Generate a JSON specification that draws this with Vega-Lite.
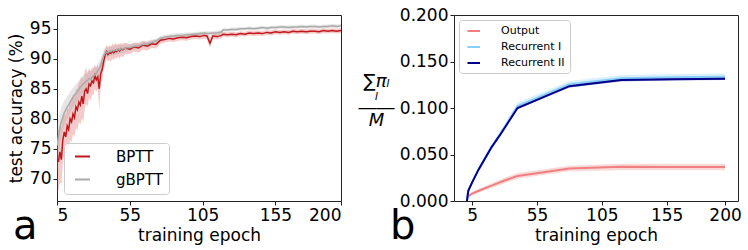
{
"$schema":"https://vega.github.io/schema/vega-lite/v6.json",
"padding":{"left":6,"top":5,"right":5,"bottom":0},
"spacing":113,
"bounds":"flush",
"resolve":{"scale":{"stroke":"independent","fill":"independent"}},
"config":{"font":"DejaVu Sans","view":{"stroke":"#222","strokeWidth":1},
"axis":{"grid":false,"domain":false,"tickColor":"#222","tickSize":4,"labelFontSize":17,"labelColor":"#000","titleFontSize":17,"titleFontWeight":"normal","titleColor":"#000","labelPadding":2,"labelOverlap":false}},
"datasets":{
"a":[
{"e":5,"s":"BPTT","m":73.5,"lo":67.0,"hi":78.5},{"e":6,"s":"BPTT","m":72.8,"lo":68.0,"hi":78.0},{"e":7,"s":"BPTT","m":74.5,"lo":69.5,"hi":79.0},{"e":8,"s":"BPTT","m":73.2,"lo":69.0,"hi":78.5},{"e":9,"s":"BPTT","m":76.5,"lo":72.5,"hi":80.0},{"e":10,"s":"BPTT","m":77.8,"lo":74.0,"hi":81.0},{"e":11,"s":"BPTT","m":77.0,"lo":73.5,"hi":80.5},{"e":12,"s":"BPTT","m":78.8,"lo":75.0,"hi":82.0},{"e":13,"s":"BPTT","m":78.2,"lo":75.0,"hi":81.5},{"e":14,"s":"BPTT","m":80.0,"lo":76.5,"hi":83.0},{"e":15,"s":"BPTT","m":79.5,"lo":76.0,"hi":83.5},{"e":16,"s":"BPTT","m":80.8,"lo":77.5,"hi":84.0},{"e":17,"s":"BPTT","m":80.2,"lo":77.0,"hi":83.5},{"e":18,"s":"BPTT","m":82.0,"lo":78.5,"hi":85.0},{"e":19,"s":"BPTT","m":81.5,"lo":78.0,"hi":85.0},{"e":20,"s":"BPTT","m":82.8,"lo":79.5,"hi":86.0},{"e":21,"s":"BPTT","m":82.3,"lo":79.0,"hi":86.5},{"e":22,"s":"BPTT","m":83.8,"lo":80.0,"hi":87.0},{"e":23,"s":"BPTT","m":82.5,"lo":79.5,"hi":86.5},{"e":24,"s":"BPTT","m":84.6,"lo":81.5,"hi":88.0},{"e":25,"s":"BPTT","m":85.0,"lo":82.5,"hi":88.5},{"e":26,"s":"BPTT","m":84.2,"lo":82.0,"hi":87.5},{"e":27,"s":"BPTT","m":85.8,"lo":83.5,"hi":88.5},{"e":28,"s":"BPTT","m":85.5,"lo":83.0,"hi":88.0},{"e":29,"s":"BPTT","m":86.3,"lo":84.0,"hi":88.5},{"e":30,"s":"BPTT","m":86.0,"lo":84.0,"hi":88.5},{"e":31,"s":"BPTT","m":87.2,"lo":85.0,"hi":89.0},{"e":32,"s":"BPTT","m":86.5,"lo":84.5,"hi":88.5},{"e":33,"s":"BPTT","m":87.0,"lo":85.0,"hi":89.0},{"e":34,"s":"BPTT","m":85.0,"lo":81.5,"hi":88.0},{"e":35,"s":"BPTT","m":87.5,"lo":85.5,"hi":89.0},{"e":36,"s":"BPTT","m":88.2,"lo":86.5,"hi":89.5},{"e":37,"s":"BPTT","m":89.5,"lo":88.0,"hi":90.8},{"e":38,"s":"BPTT","m":90.6,"lo":89.0,"hi":91.8},{"e":39,"s":"BPTT","m":91.2,"lo":90.0,"hi":92.3},{"e":40,"s":"BPTT","m":90.7,"lo":89.5,"hi":92.0},{"e":41,"s":"BPTT","m":91.0,"lo":89.8,"hi":92.2},{"e":42,"s":"BPTT","m":90.9,"lo":89.5,"hi":92.0},{"e":43,"s":"BPTT","m":91.3,"lo":90.0,"hi":92.5},{"e":44,"s":"BPTT","m":91.0,"lo":89.8,"hi":92.3},{"e":45,"s":"BPTT","m":91.4,"lo":90.2,"hi":92.6},{"e":46,"s":"BPTT","m":91.2,"lo":90.0,"hi":92.4},{"e":47,"s":"BPTT","m":91.6,"lo":90.4,"hi":92.5},{"e":48,"s":"BPTT","m":91.3,"lo":90.0,"hi":92.5},{"e":49,"s":"BPTT","m":91.7,"lo":90.5,"hi":92.6},{"e":50,"s":"BPTT","m":91.5,"lo":90.2,"hi":92.5},{"e":52,"s":"BPTT","m":91.8,"lo":90.8,"hi":92.7},{"e":55,"s":"BPTT","m":91.6,"lo":90.8,"hi":92.4},{"e":58,"s":"BPTT","m":92.0,"lo":91.2,"hi":92.7},{"e":61,"s":"BPTT","m":91.8,"lo":91.0,"hi":92.6},{"e":64,"s":"BPTT","m":92.3,"lo":91.5,"hi":93.0},{"e":67,"s":"BPTT","m":92.1,"lo":91.4,"hi":92.8},{"e":70,"s":"BPTT","m":92.5,"lo":91.8,"hi":93.1},{"e":73,"s":"BPTT","m":92.4,"lo":91.7,"hi":93.0},{"e":76,"s":"BPTT","m":93.1,"lo":92.5,"hi":93.6},{"e":79,"s":"BPTT","m":93.2,"lo":92.7,"hi":93.7},{"e":82,"s":"BPTT","m":93.4,"lo":92.9,"hi":93.9},{"e":85,"s":"BPTT","m":93.3,"lo":92.8,"hi":93.8},{"e":88,"s":"BPTT","m":93.5,"lo":93.0,"hi":94.0},{"e":91,"s":"BPTT","m":93.6,"lo":93.1,"hi":94.0},{"e":94,"s":"BPTT","m":93.5,"lo":93.0,"hi":94.0},{"e":97,"s":"BPTT","m":93.7,"lo":93.2,"hi":94.1},{"e":100,"s":"BPTT","m":93.8,"lo":93.3,"hi":94.2},{"e":103,"s":"BPTT","m":93.7,"lo":93.2,"hi":94.2},{"e":106,"s":"BPTT","m":93.9,"lo":93.4,"hi":94.3},{"e":108,"s":"BPTT","m":93.8,"lo":93.3,"hi":94.3},{"e":110,"s":"BPTT","m":92.6,"lo":91.8,"hi":93.6},{"e":112,"s":"BPTT","m":93.8,"lo":93.3,"hi":94.3},{"e":115,"s":"BPTT","m":93.7,"lo":93.2,"hi":94.2},{"e":118,"s":"BPTT","m":93.9,"lo":93.4,"hi":94.4},{"e":119,"s":"BPTT","m":94.1,"lo":93.7,"hi":94.5},{"e":122,"s":"BPTT","m":94.0,"lo":93.6,"hi":94.4},{"e":125,"s":"BPTT","m":94.1,"lo":93.7,"hi":94.5},{"e":128,"s":"BPTT","m":94.0,"lo":93.6,"hi":94.4},{"e":131,"s":"BPTT","m":94.2,"lo":93.8,"hi":94.6},{"e":134,"s":"BPTT","m":94.1,"lo":93.7,"hi":94.5},{"e":137,"s":"BPTT","m":94.3,"lo":93.9,"hi":94.7},{"e":140,"s":"BPTT","m":94.2,"lo":93.8,"hi":94.6},{"e":143,"s":"BPTT","m":94.3,"lo":93.9,"hi":94.7},{"e":146,"s":"BPTT","m":94.2,"lo":93.8,"hi":94.6},{"e":149,"s":"BPTT","m":94.4,"lo":94.0,"hi":94.8},{"e":152,"s":"BPTT","m":94.3,"lo":93.9,"hi":94.7},{"e":155,"s":"BPTT","m":94.5,"lo":94.1,"hi":94.9},{"e":158,"s":"BPTT","m":94.4,"lo":94.0,"hi":94.8},{"e":161,"s":"BPTT","m":94.5,"lo":94.1,"hi":94.9},{"e":164,"s":"BPTT","m":94.4,"lo":94.0,"hi":94.8},{"e":167,"s":"BPTT","m":94.6,"lo":94.2,"hi":95.0},{"e":170,"s":"BPTT","m":94.5,"lo":94.1,"hi":94.9},{"e":173,"s":"BPTT","m":94.6,"lo":94.2,"hi":95.0},{"e":176,"s":"BPTT","m":94.5,"lo":94.1,"hi":94.9},{"e":179,"s":"BPTT","m":94.6,"lo":94.2,"hi":95.0},{"e":182,"s":"BPTT","m":94.6,"lo":94.2,"hi":95.0},{"e":185,"s":"BPTT","m":94.5,"lo":94.1,"hi":94.9},{"e":188,"s":"BPTT","m":94.7,"lo":94.3,"hi":95.1},{"e":191,"s":"BPTT","m":94.6,"lo":94.2,"hi":95.0},{"e":194,"s":"BPTT","m":94.7,"lo":94.3,"hi":95.1},{"e":197,"s":"BPTT","m":94.6,"lo":94.2,"hi":95.0},{"e":200,"s":"BPTT","m":94.7,"lo":94.3,"hi":95.1},
{"e":5,"s":"gBPTT","m":75.5,"lo":71.0,"hi":79.0},{"e":6,"s":"gBPTT","m":77.0,"lo":73.5,"hi":80.0},{"e":7,"s":"gBPTT","m":78.5,"lo":75.5,"hi":81.0},{"e":8,"s":"gBPTT","m":79.5,"lo":77.0,"hi":82.0},{"e":9,"s":"gBPTT","m":80.3,"lo":78.0,"hi":82.5},{"e":10,"s":"gBPTT","m":81.0,"lo":79.0,"hi":83.0},{"e":11,"s":"gBPTT","m":81.5,"lo":79.5,"hi":83.3},{"e":12,"s":"gBPTT","m":82.0,"lo":80.0,"hi":83.8},{"e":13,"s":"gBPTT","m":82.3,"lo":80.5,"hi":84.0},{"e":14,"s":"gBPTT","m":82.8,"lo":81.0,"hi":84.5},{"e":15,"s":"gBPTT","m":83.2,"lo":81.5,"hi":84.8},{"e":16,"s":"gBPTT","m":83.5,"lo":81.8,"hi":85.2},{"e":17,"s":"gBPTT","m":84.0,"lo":82.3,"hi":85.5},{"e":18,"s":"gBPTT","m":84.2,"lo":82.5,"hi":85.8},{"e":19,"s":"gBPTT","m":84.6,"lo":83.0,"hi":86.0},{"e":20,"s":"gBPTT","m":84.8,"lo":83.2,"hi":86.3},{"e":21,"s":"gBPTT","m":85.3,"lo":83.8,"hi":86.7},{"e":22,"s":"gBPTT","m":85.5,"lo":84.0,"hi":87.0},{"e":23,"s":"gBPTT","m":85.8,"lo":84.3,"hi":87.2},{"e":24,"s":"gBPTT","m":86.0,"lo":84.6,"hi":87.4},{"e":25,"s":"gBPTT","m":86.3,"lo":85.0,"hi":87.6},{"e":26,"s":"gBPTT","m":86.4,"lo":85.0,"hi":87.8},{"e":27,"s":"gBPTT","m":86.7,"lo":85.3,"hi":88.0},{"e":28,"s":"gBPTT","m":86.6,"lo":85.3,"hi":87.9},{"e":29,"s":"gBPTT","m":86.9,"lo":85.6,"hi":88.1},{"e":30,"s":"gBPTT","m":87.1,"lo":85.8,"hi":88.3},{"e":31,"s":"gBPTT","m":87.3,"lo":86.0,"hi":88.5},{"e":32,"s":"gBPTT","m":87.6,"lo":86.3,"hi":88.8},{"e":33,"s":"gBPTT","m":88.0,"lo":86.8,"hi":89.2},{"e":34,"s":"gBPTT","m":88.3,"lo":87.0,"hi":89.5},{"e":35,"s":"gBPTT","m":89.0,"lo":87.8,"hi":90.1},{"e":36,"s":"gBPTT","m":89.8,"lo":88.6,"hi":90.8},{"e":37,"s":"gBPTT","m":90.5,"lo":89.5,"hi":91.4},{"e":38,"s":"gBPTT","m":90.9,"lo":90.0,"hi":91.7},{"e":39,"s":"gBPTT","m":91.1,"lo":90.3,"hi":91.9},{"e":40,"s":"gBPTT","m":91.0,"lo":90.2,"hi":91.8},{"e":41,"s":"gBPTT","m":91.3,"lo":90.5,"hi":92.0},{"e":42,"s":"gBPTT","m":91.2,"lo":90.4,"hi":92.0},{"e":43,"s":"gBPTT","m":91.4,"lo":90.6,"hi":92.1},{"e":44,"s":"gBPTT","m":91.3,"lo":90.5,"hi":92.1},{"e":45,"s":"gBPTT","m":91.5,"lo":90.8,"hi":92.2},{"e":46,"s":"gBPTT","m":91.4,"lo":90.7,"hi":92.1},{"e":47,"s":"gBPTT","m":91.6,"lo":90.9,"hi":92.3},{"e":48,"s":"gBPTT","m":91.5,"lo":90.8,"hi":92.2},{"e":49,"s":"gBPTT","m":91.7,"lo":91.0,"hi":92.4},{"e":50,"s":"gBPTT","m":91.6,"lo":90.9,"hi":92.3},{"e":52,"s":"gBPTT","m":91.8,"lo":91.2,"hi":92.4},{"e":55,"s":"gBPTT","m":91.9,"lo":91.3,"hi":92.5},{"e":58,"s":"gBPTT","m":92.1,"lo":91.5,"hi":92.6},{"e":61,"s":"gBPTT","m":92.2,"lo":91.7,"hi":92.7},{"e":64,"s":"gBPTT","m":92.4,"lo":91.9,"hi":92.9},{"e":67,"s":"gBPTT","m":92.5,"lo":92.0,"hi":93.0},{"e":70,"s":"gBPTT","m":92.7,"lo":92.2,"hi":93.2},{"e":73,"s":"gBPTT","m":93.0,"lo":92.5,"hi":93.4},{"e":76,"s":"gBPTT","m":93.4,"lo":93.0,"hi":93.8},{"e":79,"s":"gBPTT","m":93.6,"lo":93.2,"hi":94.0},{"e":82,"s":"gBPTT","m":93.7,"lo":93.3,"hi":94.1},{"e":85,"s":"gBPTT","m":93.8,"lo":93.4,"hi":94.2},{"e":88,"s":"gBPTT","m":93.9,"lo":93.5,"hi":94.3},{"e":91,"s":"gBPTT","m":93.9,"lo":93.5,"hi":94.3},{"e":94,"s":"gBPTT","m":94.0,"lo":93.6,"hi":94.4},{"e":97,"s":"gBPTT","m":94.1,"lo":93.7,"hi":94.4},{"e":100,"s":"gBPTT","m":94.1,"lo":93.8,"hi":94.5},{"e":103,"s":"gBPTT","m":94.2,"lo":93.8,"hi":94.5},{"e":106,"s":"gBPTT","m":94.3,"lo":93.9,"hi":94.6},{"e":109,"s":"gBPTT","m":94.2,"lo":93.9,"hi":94.6},{"e":112,"s":"gBPTT","m":94.3,"lo":94.0,"hi":94.6},{"e":115,"s":"gBPTT","m":94.3,"lo":94.0,"hi":94.7},{"e":118,"s":"gBPTT","m":94.5,"lo":94.1,"hi":94.8},{"e":119,"s":"gBPTT","m":94.8,"lo":94.5,"hi":95.1},{"e":122,"s":"gBPTT","m":94.8,"lo":94.5,"hi":95.1},{"e":125,"s":"gBPTT","m":94.9,"lo":94.6,"hi":95.2},{"e":128,"s":"gBPTT","m":94.9,"lo":94.6,"hi":95.2},{"e":131,"s":"gBPTT","m":95.0,"lo":94.7,"hi":95.3},{"e":134,"s":"gBPTT","m":95.0,"lo":94.7,"hi":95.3},{"e":137,"s":"gBPTT","m":95.1,"lo":94.8,"hi":95.4},{"e":140,"s":"gBPTT","m":95.0,"lo":94.7,"hi":95.3},{"e":143,"s":"gBPTT","m":95.1,"lo":94.8,"hi":95.4},{"e":146,"s":"gBPTT","m":95.2,"lo":94.9,"hi":95.5},{"e":149,"s":"gBPTT","m":95.1,"lo":94.8,"hi":95.4},{"e":152,"s":"gBPTT","m":95.2,"lo":94.9,"hi":95.5},{"e":155,"s":"gBPTT","m":95.2,"lo":94.9,"hi":95.5},{"e":158,"s":"gBPTT","m":95.3,"lo":95.0,"hi":95.6},{"e":161,"s":"gBPTT","m":95.3,"lo":95.0,"hi":95.6},{"e":164,"s":"gBPTT","m":95.2,"lo":94.9,"hi":95.5},{"e":167,"s":"gBPTT","m":95.3,"lo":95.0,"hi":95.6},{"e":170,"s":"gBPTT","m":95.3,"lo":95.0,"hi":95.6},{"e":173,"s":"gBPTT","m":95.4,"lo":95.1,"hi":95.7},{"e":176,"s":"gBPTT","m":95.3,"lo":95.0,"hi":95.6},{"e":179,"s":"gBPTT","m":95.4,"lo":95.1,"hi":95.7},{"e":182,"s":"gBPTT","m":95.4,"lo":95.1,"hi":95.7},{"e":185,"s":"gBPTT","m":95.3,"lo":95.0,"hi":95.6},{"e":188,"s":"gBPTT","m":95.4,"lo":95.1,"hi":95.7},{"e":191,"s":"gBPTT","m":95.4,"lo":95.1,"hi":95.7},{"e":194,"s":"gBPTT","m":95.5,"lo":95.2,"hi":95.8},{"e":197,"s":"gBPTT","m":95.4,"lo":95.1,"hi":95.7},{"e":200,"s":"gBPTT","m":95.5,"lo":95.2,"hi":95.8}
],
"b":[
{"e":1,"s":"Output","m":0.004,"lo":0.003,"hi":0.006},{"e":5,"s":"Output","m":0.008,"lo":0.006,"hi":0.010},{"e":10,"s":"Output","m":0.011,"lo":0.009,"hi":0.013},{"e":20,"s":"Output","m":0.0165,"lo":0.014,"hi":0.019},{"e":30,"s":"Output","m":0.022,"lo":0.019,"hi":0.025},{"e":40,"s":"Output","m":0.027,"lo":0.024,"hi":0.030},{"e":80,"s":"Output","m":0.035,"lo":0.032,"hi":0.038},{"e":120,"s":"Output","m":0.0368,"lo":0.033,"hi":0.040},{"e":160,"s":"Output","m":0.0366,"lo":0.033,"hi":0.040},{"e":200,"s":"Output","m":0.0365,"lo":0.033,"hi":0.040},
{"e":1,"s":"Recurrent I","m":0.0,"lo":0.0,"hi":0.001},{"e":2,"s":"Recurrent I","m":0.011,"lo":0.010,"hi":0.013},{"e":5,"s":"Recurrent I","m":0.020,"lo":0.018,"hi":0.022},{"e":10,"s":"Recurrent I","m":0.034,"lo":0.032,"hi":0.037},{"e":15,"s":"Recurrent I","m":0.046,"lo":0.043,"hi":0.049},{"e":20,"s":"Recurrent I","m":0.058,"lo":0.055,"hi":0.061},{"e":27,"s":"Recurrent I","m":0.073,"lo":0.070,"hi":0.076},{"e":33,"s":"Recurrent I","m":0.086,"lo":0.083,"hi":0.090},{"e":40,"s":"Recurrent I","m":0.102,"lo":0.099,"hi":0.106},{"e":80,"s":"Recurrent I","m":0.1255,"lo":0.122,"hi":0.129},{"e":120,"s":"Recurrent I","m":0.132,"lo":0.129,"hi":0.1355},{"e":160,"s":"Recurrent I","m":0.133,"lo":0.130,"hi":0.1365},{"e":200,"s":"Recurrent I","m":0.1335,"lo":0.130,"hi":0.137},
{"e":1,"s":"Recurrent II","m":0.0,"lo":0.0,"hi":0.001},{"e":2,"s":"Recurrent II","m":0.011,"lo":0.010,"hi":0.012},{"e":5,"s":"Recurrent II","m":0.020,"lo":0.019,"hi":0.021},{"e":10,"s":"Recurrent II","m":0.034,"lo":0.033,"hi":0.035},{"e":15,"s":"Recurrent II","m":0.046,"lo":0.045,"hi":0.047},{"e":20,"s":"Recurrent II","m":0.058,"lo":0.057,"hi":0.059},{"e":27,"s":"Recurrent II","m":0.072,"lo":0.071,"hi":0.073},{"e":33,"s":"Recurrent II","m":0.085,"lo":0.084,"hi":0.086},{"e":40,"s":"Recurrent II","m":0.100,"lo":0.099,"hi":0.101},{"e":80,"s":"Recurrent II","m":0.1235,"lo":0.122,"hi":0.125},{"e":120,"s":"Recurrent II","m":0.130,"lo":0.1285,"hi":0.1315},{"e":160,"s":"Recurrent II","m":0.131,"lo":0.1295,"hi":0.1325},{"e":200,"s":"Recurrent II","m":0.1315,"lo":0.130,"hi":0.133}
]},
"hconcat":[
{"width":284,"height":186,"data":{"name":"a"},
"title":{"text":"a","orient":"bottom","anchor":"start","frame":"group","fontSize":40,"fontWeight":"normal","color":"#000","dx":-44,"offset":-36},
"layer":[
{"mark":{"type":"area","opacity":0.25,"clip":true},
"encoding":{"x":{"field":"e","type":"quantitative","scale":{"domain":[5,200],"nice":false},"axis":{"values":[5,55,105,155,200],"title":"training epoch"}},
"y":{"field":"lo","type":"quantitative","scale":{"domain":[66.3,97.3],"nice":false,"zero":false},"axis":{"values":[70,75,80,85,90,95],"tickCount":7,"title":"test accuracy (%)"}},
"y2":{"field":"hi"},
"fill":{"field":"s","type":"nominal","scale":{"domain":["gBPTT","BPTT"],"range":["#9a9a9a","#d42a2a"]},"legend":null}}},
{"mark":{"type":"line","strokeWidth":1.5,"clip":true},
"encoding":{"x":{"field":"e","type":"quantitative","axis":{"values":[5,55,105,155,200],"title":"training epoch"}},"y":{"field":"m","type":"quantitative","axis":{"values":[70,75,80,85,90,95],"tickCount":7,"title":"test accuracy (%)"}},
"stroke":{"field":"s","type":"nominal","scale":{"domain":["BPTT","gBPTT"],"range":["#c0181c","#aaaaaa"]},
"legend":{"title":null,"orient":"bottom-left","offset":7,"symbolType":"M-0.5,0L2.5,0","symbolSize":100,"symbolStrokeWidth":2,"labelFontSize":15,"labelOffset":31,"labelColor":"#000","strokeColor":"#cccccc","fillColor":"rgba(255,255,255,0.85)","padding":6,"cornerRadius":3,"rowPadding":7}}}}
]},
{"width":284,"height":186,"data":{"name":"b"},
"title":{"text":"b","orient":"bottom","anchor":"start","frame":"group","fontSize":40,"fontWeight":"normal","color":"#000","dx":-64,"offset":-36},
"layer":[
{"mark":{"type":"area","opacity":0.3,"clip":true},
"encoding":{"x":{"field":"e","type":"quantitative","scale":{"domain":[-9,210],"nice":false},"axis":{"values":[5,55,105,155,200],"title":"training epoch"}},
"y":{"field":"lo","type":"quantitative","scale":{"domain":[0,0.2],"nice":false},"axis":{"values":[0,0.025,0.05,0.075,0.1,0.125,0.15,0.175,0.2],"format":".3f","title":["∑πₗ","ₗ","――","M"],"titleAngle":0,"titleFontSize":18,"titleLineHeight":13,"titleAlign":"center","titleBaseline":"middle","titleX":-78,"titleY":66,"titleFontStyle":"italic"}},
"y2":{"field":"hi"},
"fill":{"field":"s","type":"nominal","scale":{"domain":["Recurrent II","Recurrent I","Output"],"range":["#00008b","#87cefa","#f08080"]},"legend":null}}},
{"mark":{"type":"line","strokeWidth":2,"clip":true},
"encoding":{"x":{"field":"e","type":"quantitative"},"y":{"field":"m","type":"quantitative"},
"stroke":{"field":"s","type":"nominal","scale":{"domain":["Output","Recurrent I","Recurrent II"],"range":["#f08080","#87cefa","#00008b"]},
"legend":{"title":null,"orient":"top-left","offset":5,"symbolType":"M-0.5,0L2,0","symbolSize":100,"symbolStrokeWidth":2,"labelFontSize":11,"labelOffset":25,"labelColor":"#000","strokeColor":"#cccccc","fillColor":"rgba(255,255,255,0.85)","padding":5,"cornerRadius":3,"rowPadding":5}}}}
]}
]
}
